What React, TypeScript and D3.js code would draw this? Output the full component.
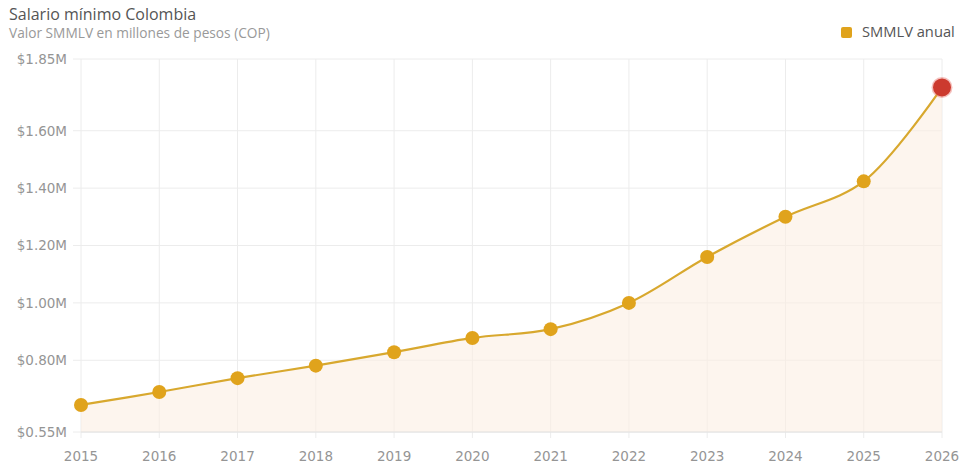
import * as React from "react";
import * as d3 from "d3";

const years = [2015, 2016, 2017, 2018, 2019, 2020, 2021, 2022, 2023, 2024, 2025, 2026];
const wages = [0.64435, 0.689455, 0.737717, 0.781242, 0.828116, 0.877803, 0.908526, 1.0, 1.16, 1.3, 1.4235, 1.750905];
const yTicks = [0.55, 0.8, 1.0, 1.2, 1.4, 1.6, 1.85];

const W = 959;
const H = 465;
const margin = { top: 59, right: 17, bottom: 33, left: 81 };

export default function App() {
  const ref = React.useRef<SVGSVGElement>(null);

  React.useEffect(() => {
    const svg = d3.select(ref.current);
    svg.selectAll("*").remove();

    const x = d3.scaleLinear().domain([2015, 2026]).range([margin.left, W - margin.right]);
    const y = d3.scaleLinear().domain([0.55, 1.85]).range([H - margin.bottom, margin.top]);
    const pts = years.map((yr, i) => ({ yr, v: wages[i] }));

    // grid
    const grid = svg.append("g");
    grid.selectAll("line.v").data(years).enter().append("line")
      .attr("x1", (d) => x(d)).attr("x2", (d) => x(d))
      .attr("y1", margin.top).attr("y2", H - margin.bottom + 6)
      .attr("stroke", "#ececec").attr("stroke-width", 1);
    grid.selectAll("line.h").data(yTicks).enter().append("line")
      .attr("x1", margin.left - 8).attr("x2", W - margin.right)
      .attr("y1", (d) => y(d)).attr("y2", (d) => y(d))
      .attr("stroke", "#ececec").attr("stroke-width", 1);

    // area + line
    const curve = d3.curveCatmullRom.alpha(0.5);
    const area = d3.area<{ yr: number; v: number }>()
      .x((d) => x(d.yr)).y0(y(0.55)).y1((d) => y(d.v)).curve(curve);
    const line = d3.line<{ yr: number; v: number }>()
      .x((d) => x(d.yr)).y((d) => y(d.v)).curve(curve);

    svg.append("path").attr("d", area(pts)!).attr("fill", "#fbeee2").attr("opacity", 0.6);

    // bottom axis line
    svg.append("line")
      .attr("x1", margin.left).attr("x2", W - margin.right)
      .attr("y1", y(0.55)).attr("y2", y(0.55))
      .attr("stroke", "#e2e2e2");

    svg.append("path").attr("d", line(pts)!)
      .attr("fill", "none").attr("stroke", "#d8a82e").attr("stroke-width", 2.2);

    // points
    svg.selectAll("circle.p").data(pts.slice(0, -1)).enter().append("circle")
      .attr("cx", (d) => x(d.yr)).attr("cy", (d) => y(d.v))
      .attr("r", 7).attr("fill", "#e0a31c");
    const last = pts[pts.length - 1];
    svg.append("circle").attr("cx", x(last.yr)).attr("cy", y(last.v))
      .attr("r", 10.5).attr("fill", "#e8746c").attr("opacity", 0.45);
    svg.append("circle").attr("cx", x(last.yr)).attr("cy", y(last.v))
      .attr("r", 9).attr("fill", "#cc3a2e");

    // y labels
    svg.selectAll("text.yl").data(yTicks).enter().append("text")
      .attr("x", 67).attr("y", (d) => y(d)).attr("dy", "0.36em")
      .attr("text-anchor", "end")
      .attr("font-family", "'DejaVu Sans', sans-serif").attr("font-size", 13.5)
      .attr("fill", "#959595")
      .text((d) => `$${d.toFixed(2)}M`);

    // x labels
    svg.selectAll("text.xl").data(years).enter().append("text")
      .attr("x", (d) => x(d)).attr("y", H - 4.5)
      .attr("text-anchor", "middle")
      .attr("font-family", "'DejaVu Sans', sans-serif").attr("font-size", 13.5)
      .attr("fill", "#959595")
      .text((d) => String(d));

    // title
    svg.append("text").attr("x", 9).attr("y", 20)
      .attr("font-family", "'Open Sans', 'Noto Sans', sans-serif").attr("font-size", 16)
      .attr("fill", "#555").text("Salario mínimo Colombia");
    svg.append("text").attr("x", 9).attr("y", 38)
      .attr("font-family", "'Open Sans', 'Noto Sans', sans-serif").attr("font-size", 13.7)
      .attr("fill", "#999").text("Valor SMMLV en millones de pesos (COP)");

    // legend
    svg.append("rect").attr("x", 841).attr("y", 27).attr("width", 11).attr("height", 11)
      .attr("rx", 2).attr("fill", "#e0a31c");
    svg.append("text").attr("x", 862).attr("y", 37)
      .attr("font-family", "'Open Sans', 'Noto Sans', sans-serif").attr("font-size", 14.7)
      .attr("fill", "#555").text("SMMLV anual");
  }, []);

  return (
    <>
      <style>{`body{margin:0}`}</style>
      <svg ref={ref} width={W} height={H} style={{ display: "block", background: "#fff" }} />
    </>
  );
}
